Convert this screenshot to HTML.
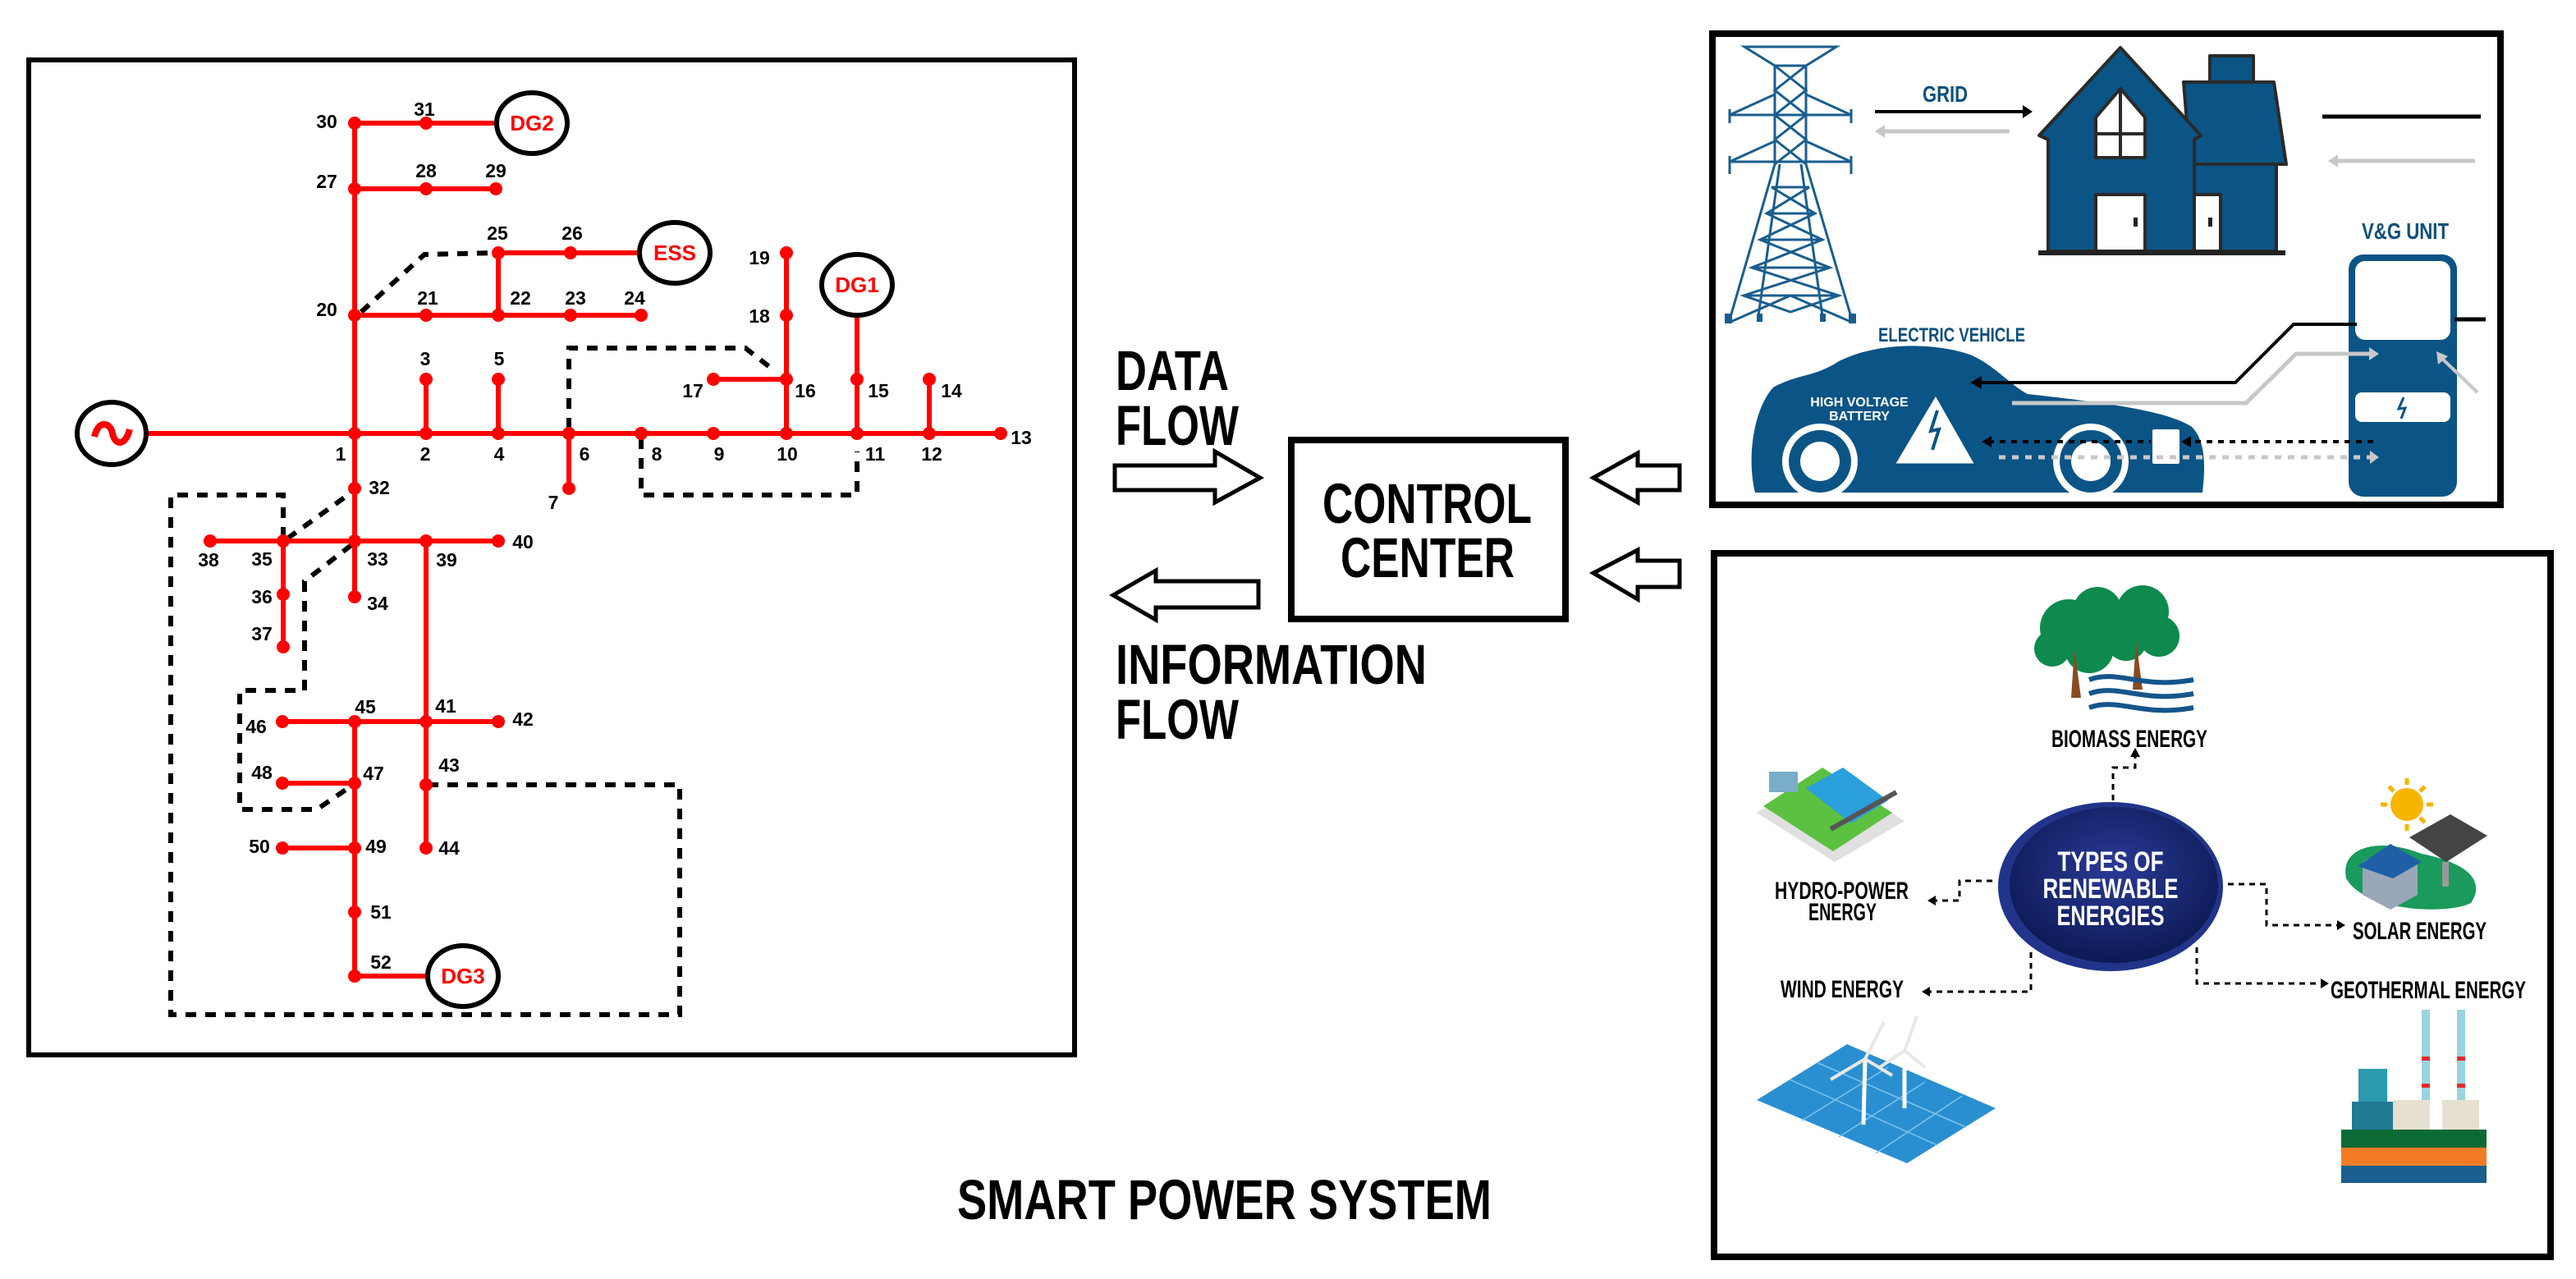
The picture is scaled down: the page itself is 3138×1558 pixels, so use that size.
<!DOCTYPE html>
<html><head><meta charset="utf-8"><style>
html,body{margin:0;padding:0;background:#fff;}
svg{display:block;}
text{font-family:"Liberation Sans Narrow","Liberation Sans",sans-serif;font-weight:bold;}
</style></head><body>
<svg width="3138" height="1558" viewBox="0 0 3138 1558" xmlns="http://www.w3.org/2000/svg">
<defs>
<radialGradient id="eg" cx="50%" cy="40%" r="60%"><stop offset="0" stop-color="#2a3a96"/><stop offset="1" stop-color="#0c1a55"/></radialGradient>
</defs>
<rect width="3138" height="1558" fill="#fff"/>
<!-- LEFT FRAME -->
<rect x="35" y="73" width="1274" height="1212" fill="none" stroke="#000" stroke-width="6"/>
<!-- dashed tie lines -->
<g fill="none" stroke="#000" stroke-width="6" stroke-dasharray="13,11">
<path d="M440,380 L517,310 L605,308"/>
<path d="M693,522 L693,424 L908,424 L944,452"/>
<path d="M781,534 L781,603 L1044,603 L1044,550"/>
<path d="M345,655 L345,603 L208,603 L208,1236 L828,1236 L828,956 L525,956"/>
<path d="M350,656 L428,600"/>
<path d="M428,664 L371,708 L371,841 L292,841 L292,986 L386,986 L430,956"/>
</g>
<!-- red network -->
<g stroke="#ff0000" stroke-width="6" fill="none">
<path d="M179,528 L1219,528"/>
<path d="M432,150 L432,727"/>
<path d="M432,150 L605,150"/>
<path d="M432,230 L604,230"/>
<path d="M432,384 L781,384"/>
<path d="M607,308 L779,308 M607,308 L607,384"/>
<path d="M519,462 L519,528 M607,462 L607,528 M693,528 L693,595"/>
<path d="M958,308 L958,528 M869,462 L958,462"/>
<path d="M1044,385 L1044,528 M1132,462 L1132,528"/>
<path d="M256,659 L607,659 M345,659 L345,788 M519,659 L519,1033"/>
<path d="M344,879 L607,879 M432,879 L432,1189 M344,954 L432,954 M344,1033 L432,1033 M432,1189 L521,1189"/>
</g>
<g fill="#ff0000">
<ellipse cx="432" cy="150" rx="8" ry="8"/><ellipse cx="519" cy="150" rx="8" ry="8"/>
<ellipse cx="432" cy="230" rx="8" ry="8"/><ellipse cx="519" cy="230" rx="8" ry="8"/><ellipse cx="604" cy="230" rx="8" ry="8"/>
<ellipse cx="607" cy="308" rx="8" ry="8"/><ellipse cx="695" cy="308" rx="8" ry="8"/>
<ellipse cx="432" cy="384" rx="8" ry="8"/><ellipse cx="519" cy="384" rx="8" ry="8"/><ellipse cx="607" cy="384" rx="8" ry="8"/><ellipse cx="695" cy="384" rx="8" ry="8"/><ellipse cx="781" cy="384" rx="8" ry="8"/>
<ellipse cx="958" cy="308" rx="8" ry="8"/><ellipse cx="958" cy="384" rx="8" ry="8"/>
<ellipse cx="519" cy="462" rx="8" ry="8"/><ellipse cx="607" cy="462" rx="8" ry="8"/><ellipse cx="869" cy="462" rx="8" ry="8"/><ellipse cx="958" cy="462" rx="8" ry="8"/><ellipse cx="1044" cy="462" rx="8" ry="8"/><ellipse cx="1132" cy="462" rx="8" ry="8"/>
<ellipse cx="432" cy="528" rx="8" ry="8"/><ellipse cx="519" cy="528" rx="8" ry="8"/><ellipse cx="607" cy="528" rx="8" ry="8"/><ellipse cx="693" cy="528" rx="8" ry="8"/><ellipse cx="781" cy="528" rx="8" ry="8"/><ellipse cx="869" cy="528" rx="8" ry="8"/><ellipse cx="958" cy="528" rx="8" ry="8"/><ellipse cx="1044" cy="528" rx="8" ry="8"/><ellipse cx="1132" cy="528" rx="8" ry="8"/><ellipse cx="1219" cy="528" rx="8" ry="8"/>
<ellipse cx="693" cy="595" rx="8" ry="8"/><ellipse cx="432" cy="595" rx="8" ry="8"/>
<ellipse cx="256" cy="659" rx="8" ry="8"/><ellipse cx="345" cy="659" rx="8" ry="8"/><ellipse cx="432" cy="659" rx="8" ry="8"/><ellipse cx="519" cy="659" rx="8" ry="8"/><ellipse cx="607" cy="659" rx="8" ry="8"/>
<ellipse cx="345" cy="724" rx="8" ry="8"/><ellipse cx="432" cy="727" rx="8" ry="8"/><ellipse cx="345" cy="788" rx="8" ry="8"/>
<ellipse cx="344" cy="879" rx="8" ry="8"/><ellipse cx="432" cy="879" rx="8" ry="8"/><ellipse cx="519" cy="879" rx="8" ry="8"/><ellipse cx="607" cy="879" rx="8" ry="8"/>
<ellipse cx="344" cy="954" rx="8" ry="8"/><ellipse cx="432" cy="954" rx="8" ry="8"/><ellipse cx="519" cy="956" rx="8" ry="8"/>
<ellipse cx="344" cy="1033" rx="8" ry="8"/><ellipse cx="432" cy="1033" rx="8" ry="8"/><ellipse cx="519" cy="1033" rx="8" ry="8"/>
<ellipse cx="432" cy="1111" rx="8" ry="8"/><ellipse cx="432" cy="1189" rx="8" ry="8"/>
</g>
<!-- generators -->
<g fill="#fff" stroke="#000" stroke-width="6">
<ellipse cx="136" cy="528" rx="42" ry="38"/>
<ellipse cx="648" cy="150" rx="43" ry="37"/>
<ellipse cx="822" cy="308" rx="43" ry="37"/>
<ellipse cx="1044" cy="347" rx="43" ry="37"/>
<ellipse cx="564" cy="1189" rx="43" ry="37"/>
</g>
<path d="M115,532 C120,510 135,515 137,528 C140,542 152,545 158,523" fill="none" stroke="#ff0000" stroke-width="8"/>
<g fill="#ff0000" font-size="26" text-anchor="middle">
<text x="648" y="159">DG2</text><text x="822" y="317">ESS</text><text x="1044" y="356">DG1</text><text x="564" y="1198">DG3</text>
</g>
<g fill="#000" font-size="23" text-anchor="middle" dominant-baseline="central">
<text x="398" y="148">30</text><text x="517" y="133">31</text><text x="398" y="221">27</text><text x="519" y="208">28</text><text x="604" y="208">29</text>
<text x="606" y="284">25</text><text x="697" y="284">26</text><text x="398" y="377">20</text><text x="521" y="363">21</text><text x="634" y="363">22</text><text x="701" y="363">23</text><text x="773" y="363">24</text>
<text x="925" y="314">19</text><text x="925" y="385">18</text><text x="518" y="437">3</text><text x="608" y="437">5</text>
<text x="844" y="476">17</text><text x="981" y="476">16</text><text x="1070" y="476">15</text><text x="1159" y="476">14</text><text x="1244" y="533">13</text>
<text x="415" y="553">1</text><text x="518" y="553">2</text><text x="608" y="553">4</text><text x="712" y="553">6</text><text x="800" y="553">8</text><text x="876" y="553">9</text><text x="959" y="553">10</text><text x="1066" y="553">11</text><text x="1135" y="553">12</text>
<text x="674" y="612">7</text><text x="462" y="594">32</text>
<text x="254" y="682">38</text><text x="319" y="681">35</text><text x="460" y="681">33</text><text x="544" y="682">39</text><text x="637" y="660">40</text>
<text x="319" y="727">36</text><text x="460" y="735">34</text><text x="319" y="772">37</text>
<text x="445" y="861">45</text><text x="543" y="860">41</text><text x="637" y="876">42</text><text x="312" y="885">46</text>
<text x="319" y="941">48</text><text x="455" y="942">47</text><text x="547" y="932">43</text>
<text x="316" y="1031">50</text><text x="458" y="1031">49</text><text x="547" y="1033">44</text>
<text x="464" y="1111">51</text><text x="464" y="1172">52</text>
</g>

<!-- MIDDLE -->
<g fill="#000" font-size="69">
<text x="1359" y="475" textLength="138" lengthAdjust="spacingAndGlyphs">DATA</text>
<text x="1359" y="542" textLength="150" lengthAdjust="spacingAndGlyphs">FLOW</text>
<text x="1359" y="833" textLength="379" lengthAdjust="spacingAndGlyphs">INFORMATION</text>
<text x="1359" y="900" textLength="150" lengthAdjust="spacingAndGlyphs">FLOW</text>
<text x="1611" y="637" textLength="255" lengthAdjust="spacingAndGlyphs">CONTROL</text>
<text x="1633" y="703" textLength="212" lengthAdjust="spacingAndGlyphs">CENTER</text>
<text x="1166" y="1485" textLength="651" lengthAdjust="spacingAndGlyphs">SMART POWER SYSTEM</text>
</g>
<rect x="1573" y="536" width="334" height="218" fill="none" stroke="#000" stroke-width="8"/>
<g fill="#fff" stroke="#000" stroke-width="5" stroke-linejoin="miter">
<path d="M1358,567 L1480,567 L1480,550 L1535,582 L1480,612 L1480,597 L1358,597 Z"/>
<path d="M1533,708 L1408,708 L1408,695 L1356,725 L1408,755 L1408,740 L1533,740 Z"/>
<path d="M2046,567 L1995,567 L1995,552 L1941,582 L1995,612 L1995,597 L2046,597 Z"/>
<path d="M2046,683 L1995,683 L1995,670 L1941,698 L1995,730 L1995,715 L2046,715 Z"/>
</g>

<!-- TOP RIGHT PANEL -->
<rect x="2086" y="41" width="960" height="574" fill="#fff" stroke="#000" stroke-width="8"/>
<!-- tower -->
<g stroke="#1a5e8e" stroke-width="3" fill="none">
<path d="M2125,57 L2237,57 L2200,80 L2162,80 Z"/>
<path d="M2162,80 L2162,200 M2200,80 L2200,200"/>
<path d="M2162,80 L2200,110 L2162,140 L2200,170 L2162,200 M2200,80 L2162,110 L2200,140 L2162,170 L2200,200"/>
<path d="M2107,140 L2255,140 L2200,115 M2107,140 L2162,115"/>
<path d="M2107,197 L2255,197 L2200,172 M2107,197 L2162,172"/>
<path d="M2107,133 L2107,150 M2255,133 L2255,150 M2107,190 L2107,212 M2255,190 L2255,212"/>
<path d="M2162,200 L2106,393 M2200,200 L2257,393"/>
<path d="M2168,200 L2142,385 M2194,200 L2220,385"/>
<path d="M2158,228 L2204,228 M2152,260 L2211,260 M2144,292 L2220,292 M2134,326 L2229,326 M2124,360 L2240,360"/>
<path d="M2158,228 L2211,260 L2144,292 L2229,326 L2124,360 L2181,380 L2240,360 L2134,326 L2220,292 L2152,260 L2204,228"/>
<path d="M2106,393 L2181,360 L2257,393"/>
</g>
<g fill="#1a5e8e"><rect x="2101" y="382" width="9" height="12"/><rect x="2140" y="382" width="7" height="10"/><rect x="2217" y="382" width="7" height="10"/><rect x="2252" y="382" width="9" height="12"/></g>
<text x="2342" y="124" font-size="28" fill="#0d4f7e" textLength="55" lengthAdjust="spacingAndGlyphs">GRID</text>
<path d="M2284,136 L2470,136" stroke="#000" stroke-width="4"/><path d="M2476,136 L2464,128 L2464,144 Z" fill="#000"/>
<path d="M2290,160 L2448,160" stroke="#c8c8c8" stroke-width="5"/><path d="M2284,160 L2296,152 L2296,168 Z" fill="#c8c8c8"/>
<!-- house -->
<g stroke="#2a2a2a" stroke-width="4" stroke-linejoin="round">
<rect x="2692" y="68" width="53" height="40" fill="#0b5486"/>
<path d="M2660,100 L2770,100 L2785,200 L2668,200 Z" fill="#0b5486"/>
<rect x="2668" y="200" width="105" height="106" fill="#0b5486"/>
<path d="M2583,58 L2681,165 L2673,170 L2673,306 L2495,306 L2495,170 L2484,165 Z" fill="#0b5486"/>
<path d="M2583,108 L2613,143 L2613,192 L2553,192 L2553,143 Z" fill="#fff"/>
<rect x="2553" y="237" width="60" height="69" fill="#fff"/>
<rect x="2673" y="237" width="32" height="69" fill="#fff"/>
</g>
<path d="M2553,163 L2613,163 M2583,110 L2583,192" stroke="#2a2a2a" stroke-width="4"/>
<path d="M2483,308 L2784,308" stroke="#222" stroke-width="6"/>
<rect x="2599" y="265" width="5" height="11" fill="#222"/><rect x="2690" y="265" width="5" height="11" fill="#222"/>
<path d="M2829,142 L3022,142" stroke="#000" stroke-width="5"/>
<path d="M2842,196 L3015,196" stroke="#c8c8c8" stroke-width="5"/><path d="M2836,196 L2848,188 L2848,204 Z" fill="#c8c8c8"/>
<text x="2877" y="291" font-size="28" fill="#0d4f7e" textLength="106" lengthAdjust="spacingAndGlyphs">V&amp;G UNIT</text>
<!-- charger -->
<rect x="2861" y="310" width="132" height="295" rx="18" fill="#0b5486"/>
<rect x="2869" y="318" width="116" height="96" rx="12" fill="#fff"/>
<rect x="2869" y="478" width="116" height="36" rx="8" fill="#fff"/>
<path d="M2928,484 L2922,498 L2930,497 L2925,510" stroke="#0b5486" stroke-width="3" fill="none"/>
<path d="M2990,389 L3028,389" stroke="#000" stroke-width="5"/>
<text x="2288" y="416" font-size="24" fill="#0d4f7e" textLength="179" lengthAdjust="spacingAndGlyphs">ELECTRIC VEHICLE</text>
<!-- car -->
<path d="M2138,600 C2128,560 2135,500 2160,472 C2190,455 2210,460 2240,440 C2290,415 2360,418 2400,432 C2430,445 2450,470 2470,480 C2560,490 2640,500 2670,520 C2690,540 2685,580 2683,600 Z" fill="#0b5486"/>
<circle cx="2217" cy="562" r="46" fill="#fff"/><circle cx="2217" cy="562" r="38" fill="#0b5486"/><circle cx="2217" cy="562" r="24" fill="#fff"/>
<circle cx="2547" cy="562" r="46" fill="#fff"/><circle cx="2547" cy="562" r="38" fill="#0b5486"/><circle cx="2547" cy="562" r="24" fill="#fff"/>
<path d="M2358,480 L2407,566 L2307,566 Z" fill="#fff" stroke="#0b5486" stroke-width="3"/>
<path d="M2360,500 L2352,525 L2362,523 L2354,548" stroke="#0b5486" stroke-width="4" fill="none"/>
<text x="2265" y="495" font-size="16" fill="#fff" text-anchor="middle">HIGH VOLTAGE</text>
<text x="2265" y="512" font-size="16" fill="#fff" text-anchor="middle">BATTERY</text>
<rect x="2621" y="522" width="35" height="44" rx="3" fill="#fff" stroke="#0b5486" stroke-width="2"/>
<path d="M2871,395 L2794,395 L2723,466 L2410,466" stroke="#000" stroke-width="4" fill="none"/><path d="M2400,466 L2414,458 L2414,474 Z" fill="#000"/>
<path d="M2890,431 L2797,431 L2736,491 L2451,491" stroke="#c8c8c8" stroke-width="5" fill="none"/><path d="M2898,431 L2886,423 L2886,439 Z" fill="#c8c8c8"/>
<path d="M3018,478 L2973,435" stroke="#c8c8c8" stroke-width="4"/><path d="M2968,428 L2970,444 L2982,434 Z" fill="#c8c8c8"/>
<path d="M2422,538 L2620,538 M2660,538 L2897,538" stroke="#000" stroke-width="4" stroke-dasharray="7,7"/>
<path d="M2414,538 L2426,531 L2426,545 Z M2657,538 L2669,531 L2669,545 Z" fill="#000"/>
<path d="M2435,557 L2890,557" stroke="#c8c8c8" stroke-width="5" stroke-dasharray="8,8"/><path d="M2898,557 L2887,549 L2887,565 Z" fill="#c8c8c8"/>

<!-- BOTTOM RIGHT PANEL -->
<rect x="2088" y="674" width="1019" height="857" fill="#fff" stroke="#000" stroke-width="8"/>
<ellipse cx="2571" cy="1080" rx="137" ry="103" fill="#22348a"/>
<ellipse cx="2575" cy="1078" rx="127" ry="95" fill="url(#eg)"/>
<g fill="#fff" font-size="34" text-anchor="middle">
<text x="2571" y="1061" textLength="129" lengthAdjust="spacingAndGlyphs">TYPES OF</text>
<text x="2571" y="1094" textLength="165" lengthAdjust="spacingAndGlyphs">RENEWABLE</text>
<text x="2571" y="1127" textLength="131" lengthAdjust="spacingAndGlyphs">ENERGIES</text>
</g>
<g fill="#000" font-size="30">
<text x="2499" y="910" textLength="190" lengthAdjust="spacingAndGlyphs">BIOMASS ENERGY</text>
<text x="2162" y="1095" textLength="163" lengthAdjust="spacingAndGlyphs">HYDRO-POWER</text>
<text x="2203" y="1121" textLength="83" lengthAdjust="spacingAndGlyphs">ENERGY</text>
<text x="2866" y="1144" textLength="163" lengthAdjust="spacingAndGlyphs">SOLAR ENERGY</text>
<text x="2839" y="1216" textLength="238" lengthAdjust="spacingAndGlyphs">GEOTHERMAL ENERGY</text>
<text x="2169" y="1215" textLength="150" lengthAdjust="spacingAndGlyphs">WIND ENERGY</text>
</g>
<g fill="none" stroke="#000" stroke-width="3" stroke-dasharray="7,6">
<path d="M2574,975 L2574,935 L2601,935 L2601,920"/>
<path d="M2427,1073 L2387,1073 L2387,1097 L2356,1097"/>
<path d="M2714,1077 L2761,1077 L2761,1127 L2848,1127"/>
<path d="M2676,1154 L2676,1198 L2829,1198"/>
<path d="M2474,1160 L2474,1208 L2350,1208"/>
</g>
<g fill="#000">
<path d="M2601,911 L2595,922 L2607,922 Z"/><path d="M2348,1097 L2358,1091 L2358,1103 Z"/>
<path d="M2857,1127 L2847,1121 L2847,1133 Z"/><path d="M2837,1198 L2827,1192 L2827,1204 Z"/>
<path d="M2341,1208 L2351,1202 L2351,1214 Z"/>
</g>
<!-- biomass trees -->
<g fill="#0e8a4e">
<circle cx="2520" cy="765" r="35"/><circle cx="2555" cy="745" r="30"/><circle cx="2545" cy="790" r="30"/><circle cx="2500" cy="790" r="22"/>
<circle cx="2610" cy="745" r="32"/><circle cx="2630" cy="775" r="25"/><circle cx="2590" cy="780" r="25"/>
</g>
<path d="M2527,790 L2535,850 L2523,850 Z M2602,780 L2610,840 L2598,840 Z" fill="#8a4a22"/>
<g fill="none" stroke="#16558a" stroke-width="6">
<path d="M2545,828 C2580,815 2610,840 2672,828"/><path d="M2545,845 C2580,832 2610,857 2672,845"/><path d="M2545,862 C2580,849 2610,874 2672,862"/>
</g>
<!-- hydro -->
<path d="M2140,990 L2225,940 L2320,1000 L2235,1050 Z" fill="#e0e0e0"/>
<path d="M2148,982 L2220,935 L2305,990 L2233,1037 Z" fill="#5cc040"/>
<path d="M2200,960 L2245,935 L2300,975 L2255,1003 Z" fill="#2aa0dc"/>
<path d="M2230,1010 L2310,965" stroke="#555" stroke-width="6"/>
<rect x="2155" y="940" width="35" height="25" fill="#7aaec8"/>
<!-- solar -->
<circle cx="2932" cy="980" r="20" fill="#f7b500"/>
<g stroke="#f7b500" stroke-width="5"><path d="M2932,948 L2932,956 M2932,1004 L2932,1012 M2900,980 L2908,980 M2956,980 L2964,980 M2910,958 L2916,964 M2948,996 L2954,1002 M2954,958 L2948,964"/></g>
<path d="M2858,1070 C2850,1030 2900,1020 2950,1040 C3000,1050 3030,1070 3010,1100 C2980,1115 2880,1110 2858,1070 Z" fill="#1a9a5c"/>
<path d="M2878,1050 L2912,1030 L2945,1050 L2945,1090 L2912,1108 L2878,1090 Z" fill="#9aa7b8"/>
<path d="M2872,1055 L2912,1028 L2950,1050 L2915,1070 Z" fill="#1f5fa8"/>
<path d="M2935,1020 L2985,992 L3030,1018 L2980,1050 Z" fill="#444"/>
<rect x="2975" y="1050" width="8" height="30" fill="#999"/>
<!-- wind -->
<path d="M2140,1340 L2250,1272 L2431,1350 L2323,1417 Z" fill="#2a8fd0"/>
<g stroke="#7fc4ee" stroke-width="1.5"><path d="M2180,1315 L2360,1395 M2215,1295 L2395,1373 M2195,1365 L2300,1300 M2240,1385 L2345,1318 M2285,1405 L2390,1335"/></g>
<g stroke="#fff" stroke-width="5"><path d="M2270,1370 L2272,1290 M2320,1350 L2320,1280"/></g>
<g stroke="#e8e8e8" stroke-width="4"><path d="M2272,1290 L2295,1245 M2272,1290 L2230,1315 M2272,1290 L2305,1310 M2320,1280 L2335,1238 M2320,1280 L2290,1300 M2320,1280 L2345,1300"/></g>
<!-- geothermal -->
<rect x="2852" y="1376" width="177" height="22" fill="#0c6a35"/>
<rect x="2852" y="1398" width="177" height="22" fill="#f47c26"/>
<rect x="2852" y="1420" width="177" height="21" fill="#1a5e8e"/>
<rect x="2950" y="1230" width="10" height="130" fill="#9ad4de"/><rect x="2993" y="1230" width="10" height="130" fill="#9ad4de"/>
<rect x="2950" y="1287" width="10" height="5" fill="#e52b2b"/><rect x="2993" y="1287" width="10" height="5" fill="#e52b2b"/>
<rect x="2950" y="1320" width="10" height="5" fill="#e52b2b"/><rect x="2993" y="1320" width="10" height="5" fill="#e52b2b"/>
<rect x="2873" y="1302" width="35" height="40" fill="#2a9ab0"/>
<rect x="2865" y="1342" width="55" height="34" fill="#1f7a92"/>
<rect x="2915" y="1340" width="45" height="36" fill="#e6e0d0"/><rect x="2975" y="1340" width="45" height="36" fill="#e6e0d0"/>
</svg>
</body></html>
